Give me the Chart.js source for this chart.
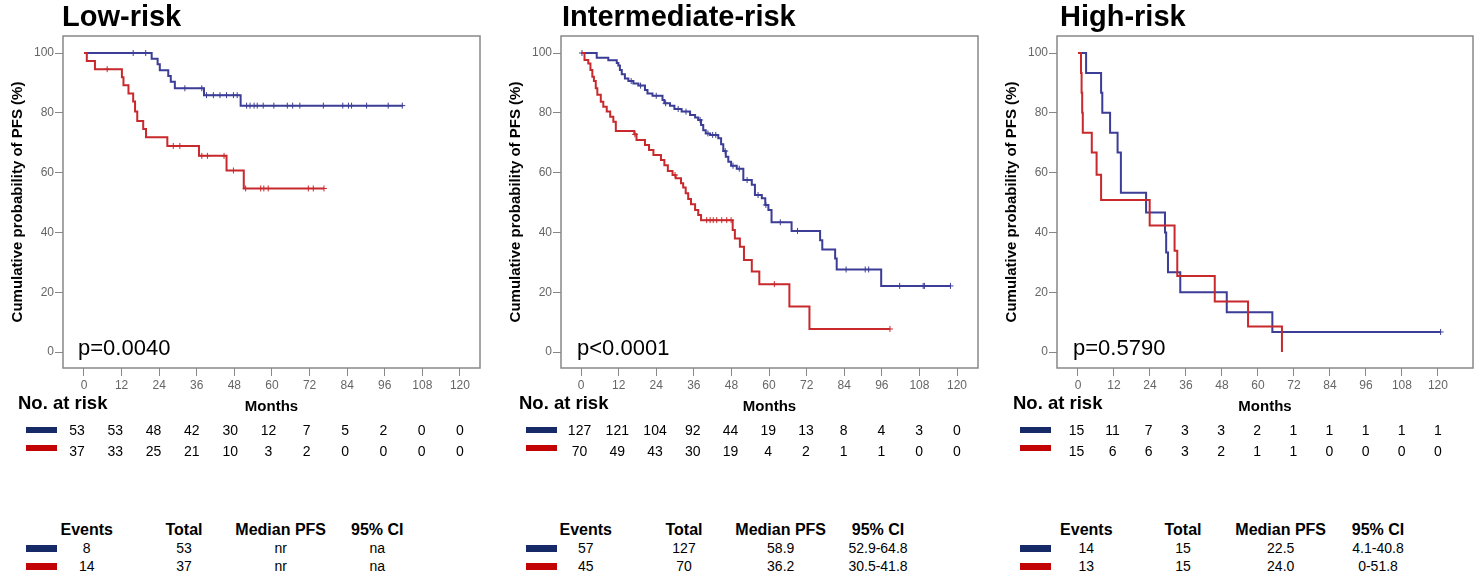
<!DOCTYPE html>
<html lang="en">
<head>
<meta charset="UTF-8">
<title>PFS by risk group</title>
<script src="https://cdn.jsdelivr.net/npm/chart.js"></script>
<style>
  body { margin: 0; background: #fff; font-family: "Liberation Sans", Arial, sans-serif; }
  #page { position: relative; width: 1482px; height: 577px; overflow: hidden; background: #fff; }
  canvas { position: absolute; top: 0; }
  .txt { position: absolute; white-space: nowrap; line-height: 1; color: #000; }
  .title { font-size: 29px; font-weight: bold; }
  .pval { font-size: 22px; }
  .risk-head { font-size: 18.5px; font-weight: bold; }
  .num { font-size: 14px; transform: translateX(-50%); }
  .th { font-size: 16px; font-weight: bold; transform: translateX(-50%); }
  .swatch { position: absolute; width: 31px; }
</style>
</head>
<body>
<div id="page"></div>
<script>
// ---- data ----
const tickMonths = [0, 12, 24, 36, 48, 60, 72, 84, 96, 108, 120];
const tickPercent = [0, 20, 40, 60, 80, 100];
const panelTitles = ['Low-risk', 'Intermediate-risk', 'High-risk'];
const pValues = ['p=0.0040', 'p<0.0001', 'p=0.5790'];

// Low-risk
const lowBlueTime = [0, 21.6, 23.5, 24.2, 26.9, 27.7, 29.0, 38.3, 50.0, 101.6];
const lowBlueSurv = [100, 98.1, 96.2, 94.2, 92.3, 90.4, 88.2, 85.9, 82.4, 82.4];
const lowBlueCensor = [15.7, 19.7, 32.2, 37.6, 39.1, 41.3, 43.4, 45.5, 47.7, 48.9, 51.9, 53.0, 54.3, 55.3, 57.2, 60.6, 64.9, 66.6, 68.9, 76.4, 82.6, 84.4, 85.4, 90.2, 97.1, 101.6];
const lowRedTime = [0, 0.9, 3.5, 12.1, 12.6, 14.2, 15.7, 16.3, 17.0, 18.9, 19.8, 26.6, 36.7, 45.5, 51.0, 76.6];
const lowRedSurv = [100, 97.3, 94.6, 91.9, 89.2, 86.5, 83.8, 80.4, 77.3, 74.6, 71.8, 68.9, 65.6, 60.7, 54.7, 54.7];
const lowRedCensor = [7.4, 28.5, 30.6, 37.6, 39.4, 44.7, 47.7, 51.6, 56.4, 57.4, 58.8, 71.6, 73.2, 76.6];

// Intermediate-risk
const midBlueTime = [0, 5.0, 8.7, 11.4, 11.9, 12.4, 13.0, 14.0, 15.1, 16.7, 18.3, 20.4, 21.2, 22.8, 26.0, 26.6, 28.4, 29.8, 32.1, 34.8, 36.4, 37.4, 38.3, 39.0, 39.8, 41.2, 43.8, 44.7, 45.4, 46.2, 47.0, 47.9, 49.7, 51.8, 54.5, 55.5, 57.7, 58.8, 59.8, 60.8, 67.2, 76.3, 77.0, 81.1, 81.6, 95.8, 117.9];
const midBlueSurv = [100, 98.4, 97.6, 96.7, 95.8, 94.3, 92.9, 91.5, 90.6, 89.8, 89.1, 87.6, 86.5, 85.7, 84.3, 83.2, 82.4, 81.3, 80.4, 79.3, 78.4, 77.6, 75.9, 74.2, 73.1, 72.6, 71.5, 69.5, 67.2, 65.3, 63.6, 62.3, 61.3, 57.5, 55.9, 52.5, 51.4, 49.2, 47.5, 43.4, 40.5, 37.4, 34.3, 31.3, 27.6, 22.1, 22.1];
const midBlueCensor = [0.3, 16.0, 19.0, 24.0, 27.0, 31.0, 33.5, 38.0, 40.5, 42.0, 43.0, 46.0, 48.5, 50.5, 53.0, 56.5, 59.0, 63.6, 69.1, 84.6, 90.7, 91.8, 101.7, 109.2, 109.6, 117.9];
const midRedTime = [0, 1.1, 2.3, 3.0, 3.6, 4.1, 4.7, 5.2, 6.3, 7.1, 8.2, 9.3, 10.3, 11.1, 17.0, 17.7, 20.4, 21.7, 23.1, 25.5, 26.6, 27.7, 29.2, 30.2, 31.9, 32.6, 33.4, 34.2, 35.1, 36.4, 37.4, 38.3, 48.4, 49.1, 50.7, 52.0, 54.5, 56.9, 66.5, 72.9, 98.6];
const midRedSurv = [100, 97.7, 96.5, 94.3, 92.1, 90.6, 88.2, 86.0, 83.7, 82.0, 80.4, 78.7, 77.0, 73.9, 72.8, 70.9, 69.2, 67.6, 65.9, 64.2, 62.5, 60.5, 59.2, 58.1, 56.4, 55.0, 53.1, 51.2, 49.4, 47.5, 45.8, 44.1, 40.8, 38.0, 35.2, 30.8, 26.9, 22.7, 15.2, 7.7, 7.7];
const midRedCensor = [17.2, 30.0, 40.1, 41.2, 42.2, 43.3, 44.9, 46.5, 47.9, 61.7, 98.6];

// High-risk
const highBlueTime = [0, 2.7, 7.7, 8.1, 10.7, 13.2, 14.3, 22.7, 29.0, 29.4, 30.0, 34.1, 49.6, 64.8, 120.9];
const highBlueSurv = [100, 93.3, 86.7, 80.0, 73.3, 66.7, 53.3, 46.7, 40.0, 33.3, 26.7, 20.0, 13.3, 6.7, 6.7];
const highBlueCensor = [120.9];
const highRedTime = [0, 1.0, 1.2, 1.4, 1.6, 4.6, 6.2, 7.7, 23.9, 32.2, 33.1, 45.6, 56.7, 68.0];
const highRedSurv = [100, 93.3, 86.7, 80.0, 73.3, 66.7, 59.3, 50.8, 42.3, 33.9, 25.4, 16.9, 8.5, 0];
const highRedCensor = [];

// numbers at risk, at tickMonths
const lowAtRiskBlue = [53, 53, 48, 42, 30, 12, 7, 5, 2, 0, 0];
const lowAtRiskRed = [37, 33, 25, 21, 10, 3, 2, 0, 0, 0, 0];
const midAtRiskBlue = [127, 121, 104, 92, 44, 19, 13, 8, 4, 3, 0];
const midAtRiskRed = [70, 49, 43, 30, 19, 4, 2, 1, 1, 0, 0];
const highAtRiskBlue = [15, 11, 7, 3, 3, 2, 1, 1, 1, 1, 1];
const highAtRiskRed = [15, 6, 6, 3, 2, 1, 1, 0, 0, 0, 0];

// summary table
const tableHeaders = ['Events', 'Total', 'Median PFS', '95% CI'];
const lowTableBlue = ['8', '53', 'nr', 'na'];
const lowTableRed = ['14', '37', 'nr', 'na'];
const midTableBlue = ['57', '127', '58.9', '52.9-64.8'];
const midTableRed = ['45', '70', '36.2', '30.5-41.8'];
const highTableBlue = ['14', '15', '22.5', '4.1-40.8'];
const highTableRed = ['13', '15', '24.0', '0-51.8'];

// ---- look ----
const FONT = '"Liberation Sans", Arial, sans-serif';
const LINE_BLUE = '#3b3d96';
const LINE_RED = '#c8292c';
const SWATCH_BLUE = '#172a68';
const SWATCH_RED = '#c20404';
const AXIS_GREY = '#888888';

const panels = [
  { left: 0, yWidth: 63, padRight: 14, yTitlePad: 9, xMin: -6.7, xMax: 126.4,
    blue: [lowBlueTime, lowBlueSurv, lowBlueCensor], red: [lowRedTime, lowRedSurv, lowRedCensor],
    atRisk: [lowAtRiskBlue, lowAtRiskRed], table: [lowTableBlue, lowTableRed],
    riskShift: -7, headLeft: 18, swatchLeft: 26, pLeft: 78, titleLeft: 62, cols: [86.7, 184, 280.7, 377.3] },
  { left: 494, yWidth: 67, padRight: 10, yTitlePad: 12.5, xMin: -6.4, xMax: 126.7,
    blue: [midBlueTime, midBlueSurv, midBlueCensor], red: [midRedTime, midRedSurv, midRedCensor],
    atRisk: [midAtRiskBlue, midAtRiskRed], table: [midTableBlue, midTableRed],
    riskShift: -1.5, headLeft: 519, swatchLeft: 526, pLeft: 577, titleLeft: 562, cols: [585.7, 684, 780.7, 878] },
  { left: 988, yWidth: 69, padRight: 9, yTitlePad: 15, xMin: -7, xMax: 131.7,
    blue: [highBlueTime, highBlueSurv, highBlueCensor], red: [highRedTime, highRedSurv, highRedCensor],
    atRisk: [highAtRiskBlue, highAtRiskRed], table: [highTableBlue, highTableRed],
    riskShift: -1.5, headLeft: 1013, swatchLeft: 1020, pLeft: 1073, titleLeft: 1060, cols: [1086.3, 1183, 1280.7, 1378] }
];

const page = document.getElementById('page');

function addText(cls, text, left, top) {
  const el = document.createElement('div');
  el.className = 'txt ' + cls;
  el.textContent = text;
  el.style.left = left + 'px';
  el.style.top = top + 'px';
  page.appendChild(el);
}

function addSwatch(color, left, top, h) {
  const el = document.createElement('div');
  el.className = 'swatch';
  el.style.background = color;
  el.style.left = left + 'px';
  el.style.top = top + 'px';
  el.style.height = h + 'px';
  page.appendChild(el);
}

function curve(times, surv) {
  return times.map((t, i) => ({ x: t, y: surv[i] }));
}

// censor marks sit on the curve at the censoring time
function censored(times, surv, cens) {
  return cens.map(c => {
    let s = surv[0];
    for (let i = 0; i < times.length; i++) if (times[i] <= c) s = surv[i];
    return { x: c, y: s };
  });
}

const frame = {
  id: 'frame',
  beforeDatasetsDraw(chart) {
    const { ctx, chartArea: a } = chart;
    ctx.save();
    ctx.strokeStyle = AXIS_GREY;
    ctx.lineWidth = 1.5;
    ctx.strokeRect(a.left, a.top, a.right - a.left, a.bottom - a.top);
    ctx.restore();
  }
};

panels.forEach((p, k) => {
  const canvas = document.createElement('canvas');
  canvas.width = 494;
  canvas.height = 416;
  canvas.style.left = p.left + 'px';
  page.appendChild(canvas);

  const chart = new Chart(canvas, {
    type: 'line',
    data: {
      datasets: [
        { data: curve(p.red[0], p.red[1]), stepped: 'before', borderColor: LINE_RED, borderWidth: 2, pointRadius: 0, fill: false },
        { data: censored(p.red[0], p.red[1], p.red[2]), showLine: false, pointStyle: 'cross', pointRadius: 3, borderColor: LINE_RED, borderWidth: 1 },
        { data: curve(p.blue[0], p.blue[1]), stepped: 'before', borderColor: LINE_BLUE, borderWidth: 2, pointRadius: 0, fill: false },
        { data: censored(p.blue[0], p.blue[1], p.blue[2]), showLine: false, pointStyle: 'cross', pointRadius: 3, borderColor: LINE_BLUE, borderWidth: 1 }
      ]
    },
    options: {
      responsive: false,
      animation: false,
      events: [],
      layout: { padding: { left: 0, top: 36, right: p.padRight, bottom: 0 } },
      plugins: { legend: { display: false }, tooltip: { enabled: false } },
      scales: {
        x: {
          type: 'linear', min: p.xMin, max: p.xMax,
          afterBuildTicks: s => { s.ticks = tickMonths.map(v => ({ value: v })); },
          afterFit: s => { s.height = 48; },
          border: { display: false },
          grid: { drawOnChartArea: false, drawTicks: true, tickLength: 8, color: AXIS_GREY },
          ticks: { color: '#666', font: { size: 12, family: FONT }, padding: 2, maxRotation: 0, autoSkip: false },
          title: { display: true, text: 'Months', color: '#000', font: { size: 15, weight: 'bold', family: FONT }, padding: { top: 0, bottom: 0 } }
        },
        y: {
          min: -5.35, max: 105.69,
          afterBuildTicks: s => { s.ticks = tickPercent.map(v => ({ value: v })); },
          afterFit: s => { s.width = p.yWidth; },
          border: { display: false },
          grid: { drawOnChartArea: false, drawTicks: true, tickLength: 8, color: AXIS_GREY },
          ticks: { color: '#666', font: { size: 12, family: FONT }, padding: 1 },
          title: { display: true, text: 'Cumulative probability of PFS (%)', color: '#000', font: { size: 15, weight: 'bold', family: FONT }, padding: { top: p.yTitlePad, bottom: 0 } }
        }
      }
    },
    plugins: [frame]
  });

  addText('title', panelTitles[k], p.titleLeft, 1.5);
  addText('pval', pValues[k], p.pLeft, 337.4);

  // numbers at risk, placed under the month ticks
  addText('risk-head', 'No. at risk', p.headLeft, 394.3);
  addSwatch(SWATCH_BLUE, p.swatchLeft, 427, 6);
  addSwatch(SWATCH_RED, p.swatchLeft, 445, 6);
  const xs = chart.scales.x;
  tickMonths.forEach((m, i) => {
    const cx = p.left + xs.getPixelForValue(m) + p.riskShift * (1 - m / 120);
    addText('num', String(p.atRisk[0][i]), cx, 423.2);
    addText('num', String(p.atRisk[1][i]), cx, 444.2);
  });

  // summary table
  tableHeaders.forEach((h, i) => addText('th', h, p.cols[i], 522));
  addSwatch(SWATCH_BLUE, p.swatchLeft, 545, 7);
  addSwatch(SWATCH_RED, p.swatchLeft, 563, 7);
  p.table[0].forEach((v, i) => addText('num', v, p.cols[i], 541.2));
  p.table[1].forEach((v, i) => addText('num', v, p.cols[i], 558.7));
});
</script>
</body>
</html>
